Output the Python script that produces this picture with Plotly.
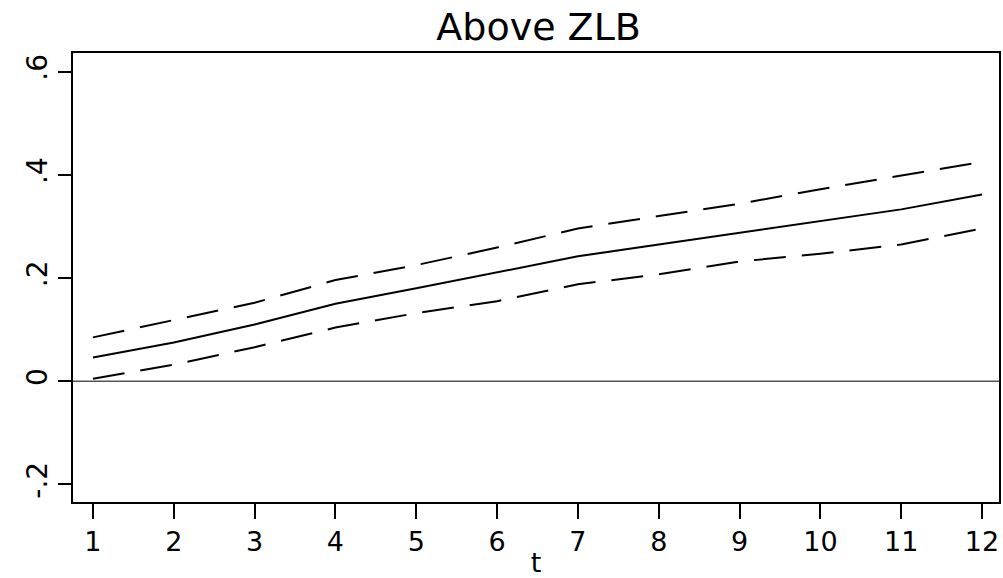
import plotly.graph_objects as go

t = list(range(1, 13))
irf = [0.046, 0.075, 0.110, 0.150, 0.180, 0.211, 0.242, 0.265, 0.288, 0.310, 0.333, 0.362]
upper = [0.085, 0.119, 0.152, 0.196, 0.225, 0.259, 0.296, 0.320, 0.344, 0.372, 0.398, 0.425]
lower = [0.005, 0.032, 0.066, 0.104, 0.132, 0.155, 0.188, 0.207, 0.232, 0.247, 0.265, 0.296]
yticks = [-0.2, 0, 0.2, 0.4, 0.6]
ytext = ["-.2", "0", ".2", ".4", ".6"]

font = "DejaVu Sans, Arial, sans-serif"
fig = go.Figure()
fig.add_hline(y=0, line=dict(color="#555555", width=1.5))
fig.add_trace(go.Scatter(x=t, y=upper, mode="lines",
                         line=dict(color="black", width=2, dash="32px,16px")))
fig.add_trace(go.Scatter(x=t, y=irf, mode="lines",
                         line=dict(color="black", width=2)))
fig.add_trace(go.Scatter(x=t, y=lower, mode="lines",
                         line=dict(color="black", width=2, dash="32px,16px")))

fig.update_layout(
    width=1003, height=578,
    margin=dict(l=73, r=2, t=53, b=71),
    paper_bgcolor="white", plot_bgcolor="white",
    showlegend=False,
    font=dict(family=font, color="black", size=26),
    title=dict(text="Above ZLB", x=0.537, xanchor="center", y=0.953, yanchor="middle",
               font=dict(size=38, family=font, color="black")),
    xaxis=dict(range=[0.753, 12.21], tickvals=t, ticks="outside", ticklen=15,
               tickwidth=2, tickcolor="black", showgrid=False, zeroline=False,
               showline=True, linecolor="black", linewidth=2, mirror=True,
               tickfont=dict(size=27),
               title=dict(text="t", font=dict(size=27), standoff=0)),
    yaxis=dict(range=[-0.234, 0.636], tickvals=yticks, ticktext=ytext,
               ticks="outside", ticklen=13, tickwidth=2, tickcolor="black",
               tickangle=-90, showgrid=False, zeroline=False,
               showline=True, linecolor="black", linewidth=2, mirror=True,
               tickfont=dict(size=28)),
)
fig.write_html("out.html", config={"displayModeBar": False},
               post_script="document.body.style.margin='0px';document.body.style.overflow='hidden';")
